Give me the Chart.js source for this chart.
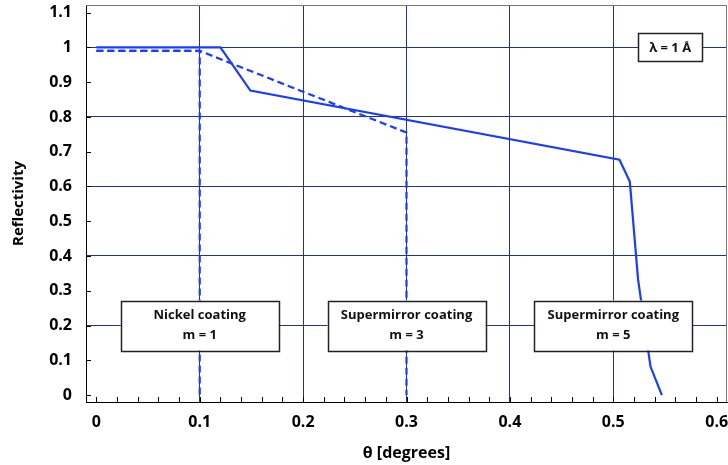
<!DOCTYPE html>
<html><head><meta charset="utf-8">
<script src="https://cdn.jsdelivr.net/npm/chart.js@4.4.1/dist/chart.umd.min.js"></script>
<style>html,body{margin:0;padding:0;background:#fff}</style>
</head><body>
<canvas id="c" width="728" height="465"></canvas>
<script>
// ---- data ----
const solidX  = [0, 0.12, 0.149, 0.506, 0.516, 0.524, 0.536, 0.547];
const solidY  = [1.0, 1.0, 0.876, 0.677, 0.614, 0.332, 0.082, 0.0];
const nickelX = [0, 0.1, 0.1];
const nickelY = [0.99, 0.99, 0.0];
const m3X     = [0, 0.1, 0.3, 0.3];
const m3Y     = [0.99, 0.99, 0.755, 0.0];

const xTicks      = [0, 0.1, 0.2, 0.3, 0.4, 0.5, 0.6];
const xGridTicks  = [0.1, 0.2, 0.3, 0.4, 0.5];
const xMinorTicks = [0,0.02,0.04,0.06,0.08,0.1,0.12,0.14,0.16,0.18,0.2,0.22,0.24,0.26,0.28,0.3,0.32,0.34,0.36,0.38,0.4,0.42,0.44,0.46,0.48,0.5,0.52,0.54,0.56,0.58,0.6];
const yTicks      = [0, 0.1, 0.2, 0.3, 0.4, 0.5, 0.6, 0.7, 0.8, 0.9, 1.0, 1.1];
const yTickLabels = ['0','0.1','0.2','0.3','0.4','0.5','0.6','0.7','0.8','0.9','1','1.1'];
const yGridTicks  = [0.2, 0.4, 0.6, 0.8, 1.0];

const boxLabels = [
  {lines: ['Nickel coating', 'm = 1'], x: 0.1, y: 0.2},
  {lines: ['Supermirror coating', 'm = 3'], x: 0.3, y: 0.2},
  {lines: ['Supermirror coating', 'm = 5'], x: 0.5, y: 0.2}
];
const lambdaLabel = {text: 'λ = 1 Å', x: 0.555, y: 1.0};

const pts = (xs, ys) => xs.map((x, i) => ({x, y: ys[i]}));
const FONT = "'Open Sans', 'Noto Sans', sans-serif";
const BLUE = '#1a3cff';
const GRID = '#22329c';
const near = (a, list) => list.some(v => Math.abs(v - a) < 1e-6);

const decor = {
  id: 'decor',
  beforeDatasetsDraw(chart) {
    const ctx = chart.ctx, a = chart.chartArea;
    const xs = chart.scales.x, ys = chart.scales.y;
    ctx.save();
    ctx.strokeStyle = '#000';
    ctx.lineWidth = 1;
    ctx.beginPath();
    xMinorTicks.forEach(v => {
      const px = Math.round(xs.getPixelForValue(v)) + 0.5;
      ctx.moveTo(px, a.bottom); ctx.lineTo(px, a.bottom - 5);
    });
    yTicks.forEach(v => {
      const py = Math.round(ys.getPixelForValue(v)) + 0.5;
      ctx.moveTo(a.left, py); ctx.lineTo(a.left + 5, py);
    });
    ctx.stroke();
    ctx.strokeStyle = '#777';
    ctx.beginPath();
    ctx.moveTo(a.left, a.top + 0.5); ctx.lineTo(a.right, a.top + 0.5);
    ctx.moveTo(a.right - 0.5, a.top); ctx.lineTo(a.right - 0.5, a.bottom);
    ctx.stroke();
    ctx.restore();
  },
  afterDatasetsDraw(chart) {
    const ctx = chart.ctx;
    const xs = chart.scales.x, ys = chart.scales.y;
    ctx.save();
    ctx.lineWidth = 1.5;
    ctx.strokeStyle = '#222';
    ctx.textAlign = 'center';
    ctx.textBaseline = 'middle';
    boxLabels.forEach(b => {
      const cx = xs.getPixelForValue(b.x), cy = ys.getPixelForValue(b.y);
      const w = 158, h = 50;
      ctx.fillStyle = '#fff';
      ctx.fillRect(cx - w/2, cy - h/2, w, h);
      ctx.strokeRect(Math.round(cx - w/2) + 0.5, Math.round(cy - h/2) + 0.5, w, h);
      ctx.fillStyle = '#111';
      ctx.font = 'bold 13px ' + FONT;
      ctx.fillText(b.lines[0], cx, cy - 10);
      ctx.fillText(b.lines[1], cx, cy + 9.5);
    });
    const lx = xs.getPixelForValue(lambdaLabel.x), ly = ys.getPixelForValue(lambdaLabel.y);
    const lw = 64, lh = 28;
    ctx.fillStyle = '#fff';
    ctx.fillRect(lx - lw/2, ly - lh/2, lw, lh);
    ctx.strokeRect(Math.round(lx - lw/2) + 0.5, Math.round(ly - lh/2) + 0.5, lw, lh);
    ctx.fillStyle = '#111';
    ctx.font = 'bold 13px ' + FONT;
    ctx.fillText(lambdaLabel.text, lx, ly + 0.5);
    ctx.restore();
  }
};

new Chart(document.getElementById('c'), {
  type: 'line',
  data: {
    datasets: [
      {data: pts(solidX, solidY), borderColor: BLUE, borderWidth: 2.2, pointRadius: 0, tension: 0, fill: false},
      {data: pts(nickelX, nickelY), borderColor: BLUE, borderWidth: 2.2, borderDash: [7, 4], pointRadius: 0, tension: 0, fill: false},
      {data: pts(m3X, m3Y), borderColor: BLUE, borderWidth: 2.2, borderDash: [7, 4], pointRadius: 0, tension: 0, fill: false}
    ]
  },
  options: {
    responsive: false,
    animation: false,
    layout: {padding: {top: 5, right: 1, left: 0, bottom: 0}},
    plugins: {legend: {display: false}, tooltip: {enabled: false}},
    scales: {
      x: {
        type: 'linear', min: -0.01, max: 0.61,
        afterBuildTicks: s => { s.ticks = xTicks.map(v => ({value: v})); },
        afterFit: s => { s.height = 63; s.paddingLeft = 0; s.paddingRight = 0; },
        ticks: {
          color: '#000', padding: 11,
          font: {family: FONT, size: 16, weight: 'bold'},
          callback: v => String(v)
        },
        grid: {
          drawTicks: false,
          color: c => near(c.tick.value, xGridTicks) ? GRID : 'rgba(0,0,0,0)',
          lineWidth: 1
        },
        border: {display: true, color: '#000', width: 1},
        title: {
          display: true, text: 'θ [degrees]', color: '#000',
          font: {family: FONT, size: 16, weight: 'bold'},
          padding: {top: 0, bottom: 2}
        }
      },
      y: {
        type: 'linear', min: -0.02, max: 1.122,
        afterBuildTicks: s => { s.ticks = yTicks.map(v => ({value: v})); },
        afterFit: s => { s.width = 86; s.paddingTop = 0; s.paddingBottom = 0; },
        ticks: {
          color: '#000', padding: 14,
          font: {family: FONT, size: 16, weight: 'bold'},
          callback: (v, i) => yTickLabels[i]
        },
        grid: {
          drawTicks: false,
          color: c => near(c.tick.value, yGridTicks) ? GRID : 'rgba(0,0,0,0)',
          lineWidth: 1
        },
        border: {display: true, color: '#000', width: 1},
        title: {
          display: true, text: 'Reflectivity', color: '#000',
          font: {family: FONT, size: 15, weight: 'bold'},
          padding: {top: 10, bottom: 0}
        }
      }
    }
  },
  plugins: [decor]
});
</script>
</body></html>
